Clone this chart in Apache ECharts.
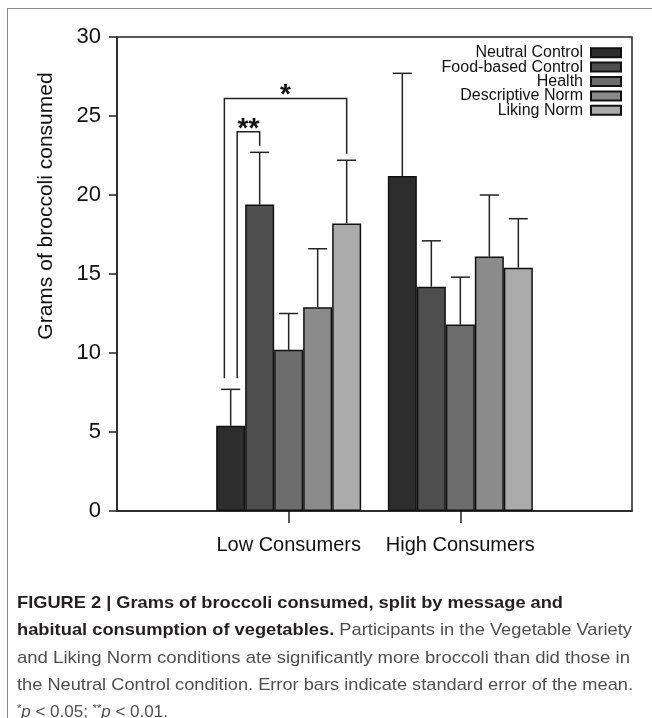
<!DOCTYPE html>
<html><head><meta charset="utf-8">
<script src="https://cdn.jsdelivr.net/npm/echarts@6/dist/echarts.min.js"></script>
<style>
html,body{margin:0;padding:0;background:#fff;}
#wrap{position:relative;width:652px;height:718px;overflow:hidden;background:#fff;}
#frame{position:absolute;left:7px;top:8px;width:700px;height:800px;border-left:1.5px solid #8a8a8a;border-top:1.5px solid #8a8a8a;}
#chart{position:absolute;left:0;top:0;width:652px;height:718px;}
#caption{position:absolute;left:17px;top:589px;font-family:'Liberation Sans',Arial,sans-serif;font-size:17px;line-height:27.3px;color:#4f4f4f;white-space:nowrap;}
#caption .ln{display:block;transform-origin:0 50%;}
#caption b{color:#231f20;}
#caption sup{font-size:11px;vertical-align:5px;line-height:0;}
</style></head>
<body><div id="wrap"><div id="frame"></div><div id="chart"></div>
<div id="caption">
<span class="ln" data-w="546"><b>FIGURE 2 | Grams of broccoli consumed, split by message and</b></span>
<span class="ln" data-w="615"><b>habitual consumption of vegetables.</b> Participants in the Vegetable Variety</span>
<span class="ln" data-w="613">and Liking Norm conditions ate significantly more broccoli than did those in</span>
<span class="ln" data-w="616">the Neutral Control condition. Error bars indicate standard error of the mean.</span>
<span class="ln" data-w="0"><sup>*</sup><i>p</i> &lt; 0.05; <sup>**</sup><i>p</i> &lt; 0.01.</span>
</div>
</div>
<script>
// ---- data ----
const categories = ['Low Consumers', 'High Consumers'];
const seriesNames = ['Neutral Control', 'Food-based Control', 'Health', 'Descriptive Norm', 'Liking Norm'];
const neutralControl   = [5.4, 21.2];
const foodBasedControl = [19.4, 14.2];
const health           = [10.2, 11.8];
const descriptiveNorm  = [12.9, 16.1];
const likingNorm       = [18.2, 15.4];
// upper ends of the error bars (mean + SE)
const neutralControlUpper   = [7.7, 27.7];
const foodBasedControlUpper = [22.7, 17.1];
const healthUpper           = [12.5, 14.8];
const descriptiveNormUpper  = [16.6, 20.0];
const likingNormUpper       = [22.2, 18.5];
const yTicks = [0, 5, 10, 15, 20, 25, 30];
// significance brackets
const bracketCategory = 'Low Consumers';
const bracketFrom   = ['Neutral Control', 'Neutral Control'];
const bracketTo     = ['Food-based Control', 'Liking Norm'];
const bracketTop    = [24.0, 26.1];
const bracketLabels = ['**', '*'];

// ---- styles ----
const FONT = "'Liberation Sans', Arial, Helvetica, sans-serif";
const colors = ['#2d2d2d', '#4e4e4e', '#6d6d6d', '#8b8b8b', '#ababab'];
const BAR_W = 29;
const CAP = 9.5;
const bracketLeftOffset = [6.5, -6.3];

const means = [neutralControl, foodBasedControl, health, descriptiveNorm, likingNorm];
const uppers = [neutralControlUpper, foodBasedControlUpper, healthUpper, descriptiveNormUpper, likingNormUpper];
const axisCats = [''].concat(categories).concat(['']);

const series = [];
seriesNames.forEach(function (name, i) {
  series.push({
    name: name, type: 'bar', barWidth: BAR_W, barGap: '0%',
    data: [null].concat(means[i]).concat([null]),
    itemStyle: { color: colors[i], borderColor: '#111', borderWidth: 1.5 },
    emphasis: { disabled: true }, z: 2
  });
});
seriesNames.forEach(function (name, i) {
  series.push({
    type: 'custom', name: name + ' SE', z: 3, silent: true,
    encode: { x: 0, y: [1, 2] },
    data: categories.map(function (c, k) { return [k + 1, means[i][k], uppers[i][k]]; }),
    renderItem: function (params, api) {
      const c = api.value(0);
      const p0 = api.coord([c, api.value(1)]);
      const p1 = api.coord([c, api.value(2)]);
      const x = p0[0] + (i - 2) * BAR_W;
      const st = { stroke: '#222', lineWidth: 1.5 };
      return { type: 'group', children: [
        { type: 'line', shape: { x1: x, y1: p0[1], x2: x, y2: p1[1] }, style: st },
        { type: 'line', shape: { x1: x - CAP, y1: p1[1], x2: x + CAP, y2: p1[1] }, style: st }
      ]};
    }
  });
});
const bcat = categories.indexOf(bracketCategory) + 1;
series.push({
  type: 'custom', name: 'brackets', z: 4, silent: true,
  encode: { x: 0, y: 3 },
  data: bracketTop.map(function (t, k) {
    const f = seriesNames.indexOf(bracketFrom[k]), to = seriesNames.indexOf(bracketTo[k]);
    return [bcat, f, to, t, uppers[f][bcat - 1], uppers[to][bcat - 1], k];
  }),
  renderItem: function (params, api) {
    const c = api.value(0), f = api.value(1), to = api.value(2), k = api.value(6);
    const cx = api.coord([c, 0])[0];
    const xL = cx + (f - 2) * BAR_W + bracketLeftOffset[k];
    const xR = cx + (to - 2) * BAR_W;
    const yT = api.coord([c, api.value(3)])[1];
    const yL = api.coord([c, api.value(4)])[1] - 11;
    const yR = api.coord([c, api.value(5)])[1] - 6.5;
    return { type: 'group', children: [
      { type: 'polyline', shape: { points: [[xL, yL], [xL, yT], [xR, yT], [xR, yR]] },
        style: { stroke: '#222', lineWidth: 1.5, fill: null } },
      { type: 'text', x: (xL + xR) / 2, y: yT - 3,
        style: { text: bracketLabels[k], fill: '#111', font: 'bold 28px ' + FONT, align: 'center', verticalAlign: 'middle' } }
    ]};
  }
});

const chart = echarts.init(document.getElementById('chart'), null, { renderer: 'canvas' });
chart.setOption({
  animation: false,
  backgroundColor: 'transparent',
  textStyle: { fontFamily: FONT },
  grid: { left: 117, right: 20, top: 37, bottom: 207, show: true, borderColor: '#222', borderWidth: 1.5, backgroundColor: 'transparent' },
  legend: {
    data: seriesNames, orient: 'vertical', right: 30, top: 44.7, align: 'right', padding: 0,
    itemWidth: 30, itemHeight: 9, itemGap: -1.6, icon: 'rect', selectedMode: false,
    textStyle: { fontSize: 16, color: '#111', fontFamily: FONT, padding: [0, 3, 0, 0] }
  },
  xAxis: {
    type: 'category', data: axisCats, boundaryGap: false,
    axisLine: { lineStyle: { color: '#222', width: 1.5 } },
    axisTick: { interval: function (i) { return i === 1 || i === 2; }, length: 12, lineStyle: { color: '#222', width: 1.5 } },
    axisLabel: { interval: 0, margin: 24, fontSize: 20, color: '#111', fontFamily: FONT },
    splitLine: { show: false }
  },
  yAxis: {
    type: 'value', min: yTicks[0], max: yTicks[yTicks.length - 1], interval: yTicks[1] - yTicks[0],
    name: 'Grams of broccoli consumed', nameLocation: 'middle', nameGap: 60,
    nameTextStyle: { fontSize: 21, color: '#111', fontFamily: FONT, padding: [0, 0, 0, 136] },
    axisLine: { show: true, lineStyle: { color: '#222', width: 1.5 } },
    axisTick: { show: true, length: 8, lineStyle: { color: '#222', width: 1.5 } },
    axisLabel: { margin: 16, fontSize: 22, color: '#111', fontFamily: FONT },
    splitLine: { show: false }
  },
  series: series
});

// fit caption lines to measured widths
document.querySelectorAll('#caption .ln').forEach(function (el) {
  const w = parseFloat(el.getAttribute('data-w'));
  if (!w) return;
  el.style.display = 'inline-block';
  const cw = el.getBoundingClientRect().width;
  el.style.display = 'block';
  if (cw > 0) el.style.transform = 'scaleX(' + (w / cw) + ')';
});
</script>
</body></html>
